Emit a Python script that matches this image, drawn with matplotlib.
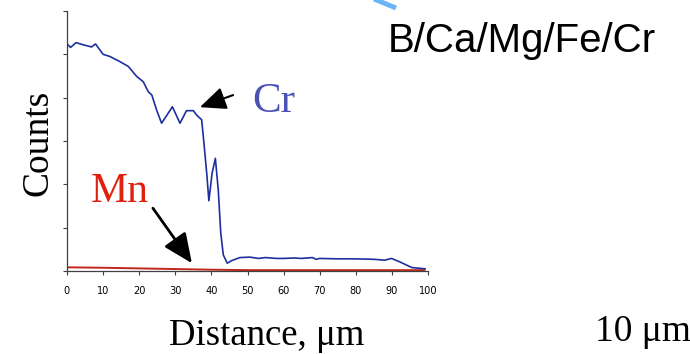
import matplotlib
matplotlib.use('Agg')
import matplotlib.pyplot as plt
from matplotlib.lines import Line2D

# Line scan profiles along the traverse (distance in um, counts in arbitrary units)
cr_dist = [0, 1, 2.5, 4.5, 6.8, 7.9, 10, 11.9, 14.7, 17, 19.3, 21.1, 22.5, 23.5,
           24.8, 26.2, 29.2, 31.3, 33.1, 35, 35.9, 37.3, 37.9, 38.7, 39.3, 40.2,
           41.1, 41.9, 42.6, 43.3, 44.4, 45.6, 47.9, 50.7, 53, 55, 58, 60, 63,
           65, 68, 69, 70, 75, 80, 85, 88, 89.9, 92.2, 95.5, 99.2]
cr_counts = [5.24, 5.16, 5.27, 5.22, 5.17, 5.24, 5.0, 4.95, 4.83, 4.72, 4.49,
             4.37, 4.14, 4.06, 3.72, 3.41, 3.79, 3.41, 3.70, 3.70, 3.60, 3.49,
             2.98, 2.26, 1.62, 2.26, 2.60, 1.87, 0.87, 0.37, 0.18, 0.24, 0.31,
             0.32, 0.29, 0.31, 0.29, 0.29, 0.30, 0.29, 0.31, 0.27, 0.29, 0.28,
             0.28, 0.27, 0.25, 0.29, 0.21, 0.08, 0.05]

mn_dist = [0, 10, 20, 30, 40, 50, 60, 70, 80, 90, 99]
mn_counts = [0.085, 0.075, 0.06, 0.045, 0.03, 0.02, 0.02, 0.02, 0.02, 0.02, 0.02]

x_ticks = [0, 10, 20, 30, 40, 50, 60, 70, 80, 90, 100]
y_ticks = [0, 1, 2, 3, 4, 5, 6]

W, H = 690, 354
fig = plt.figure(figsize=(W / 100, H / 100), dpi=100)
ax = fig.add_axes([67 / W, 1 - 271 / H, (428 - 67) / W, (271 - 11) / H])

ax.plot(mn_dist, mn_counts, color='#c0281c', lw=1.4)
ax.plot(cr_dist, cr_counts, color='#1f2f9f', lw=1.2)

ax.set_xlim(0, 100)
ax.set_ylim(0, 6)
ax.set_xticks(x_ticks)
ax.set_yticks(y_ticks)
ax.set_yticklabels([])
ax.set_xticklabels([str(t) for t in x_ticks], family='DejaVu Sans',
                   fontstretch='condensed', fontsize=7.8)
ax.tick_params(axis='both', direction='out', length=3, width=0.8, color='#404040', pad=8)
for side in ('top', 'right'):
    ax.spines[side].set_visible(False)
for side in ('left', 'bottom'):
    ax.spines[side].set_color('#404040')
    ax.spines[side].set_linewidth(0.9)

serif = ['Liberation Serif', 'DejaVu Serif']

# element labels with pointer arrows
ax.annotate('', xy=(36.8, 3.78), xytext=(46, 4.06),
            arrowprops=dict(arrowstyle='-|>,head_length=0.8,head_width=0.35',
                            mutation_scale=20, lw=1.5, color='black',
                            shrinkA=0, shrinkB=0))
ax.text(51.2, 3.9, 'Cr', family=serif, fontsize=31, color='#4a52b6',
        ha='left', va='center')

ax.annotate('', xy=(34.6, 0.18), xytext=(23.8, 1.45),
            arrowprops=dict(arrowstyle='-|>,head_length=0.9,head_width=0.4',
                            mutation_scale=20, lw=2, color='black',
                            shrinkA=0, shrinkB=0))
ax.text(6.6, 1.82, 'Mn', family=serif, fontsize=30, color='#e0200c',
        ha='left', va='center')

fig.text(38 / W, 1 - 143 / H, 'Counts', family=serif, fontsize=27,
         rotation=90, ha='center', va='center')
fig.text(169 / W, 1 - 345 / H, 'Distance, \u03bcm', family=serif, fontsize=26.5,
         ha='left', va='baseline')
fig.text(595 / W, 1 - 341 / H, '10 \u03bcm', family=serif, fontsize=27,
         ha='left', va='baseline')
fig.text(388 / W, 1 - 52 / H, 'B/Ca/Mg/Fe/Cr',
         family=['Liberation Sans', 'DejaVu Sans'], fontsize=29,
         ha='left', va='baseline')

# light blue pointer entering from the top edge
fig.add_artist(Line2D([374 / W, 396 / W], [1 + 1 / H, 1 - 8 / H],
                      color='#6ab4f8', lw=3.5, solid_capstyle='butt'))

fig.savefig('out.png', dpi=100)
